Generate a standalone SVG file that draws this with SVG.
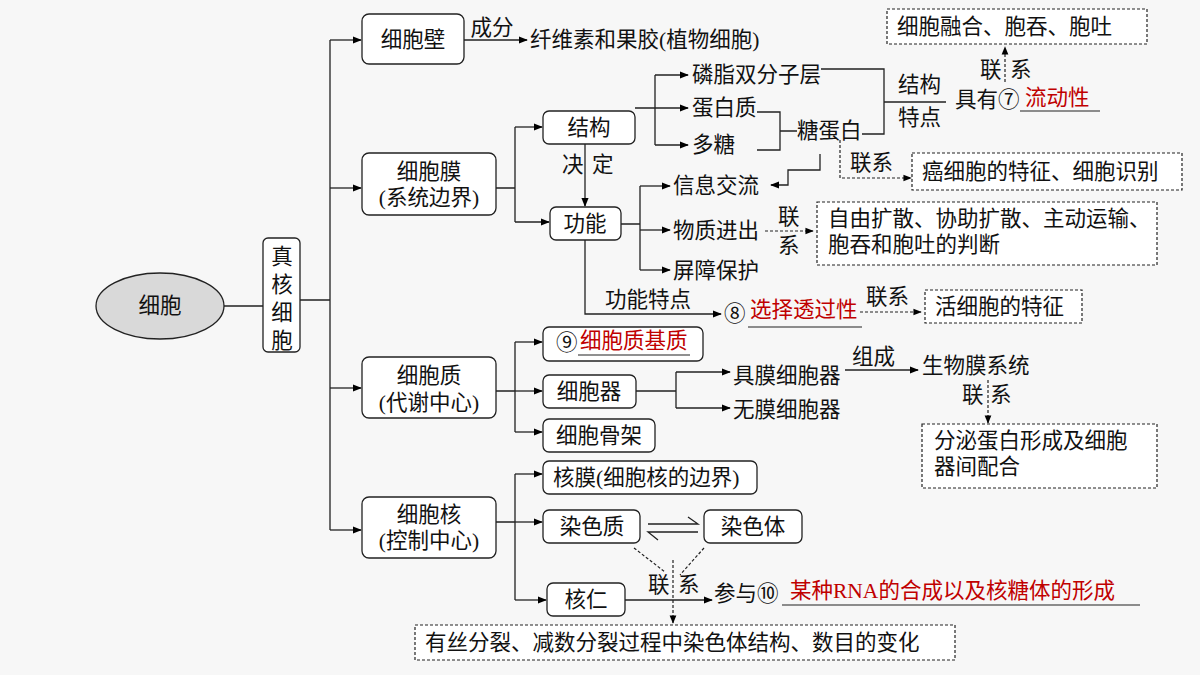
<svg xmlns="http://www.w3.org/2000/svg" width="1200" height="675" viewBox="0 0 1200 675">
<defs>
<marker id="a" viewBox="0 0 10 10" refX="9" refY="5" markerWidth="7" markerHeight="7" orient="auto"><path d="M0,1 L10,5 L0,9 Z" fill="#000"/></marker>
<style>
text{font-family:"Liberation Serif","Noto Sans CJK SC",serif;font-size:21.5px;fill:#111;dominant-baseline:central}
.c{text-anchor:middle}
.r{fill:#c00000}
.b{fill:#fff;stroke:#222;stroke-width:1.3}
.d{fill:#fff;stroke:#222;stroke-width:1.2;stroke-dasharray:3,2}
.l{fill:none;stroke:#222;stroke-width:1.3}
.ld{fill:none;stroke:#222;stroke-width:1.2;stroke-dasharray:3,2}
.u{stroke:#222;stroke-width:1.2}
</style>
</defs>
<rect width="1200" height="675" fill="#f7f7f7"/>
<g id="connectors">
<path class="l" d="M224,306H263M300,300H330M330,40V530"/>
<path class="l" marker-end="url(#a)" d="M330,40H361"/>
<path class="l" marker-end="url(#a)" d="M330,188H361"/>
<path class="l" marker-end="url(#a)" d="M330,388H361"/>
<path class="l" marker-end="url(#a)" d="M330,530H361"/>
<path class="l" marker-end="url(#a)" d="M464,40H527"/>
<path class="l" d="M496,188H515M515,127V222"/>
<path class="l" marker-end="url(#a)" d="M515,127H542"/>
<path class="l" marker-end="url(#a)" d="M515,222H549"/>
<path class="l" marker-end="url(#a)" d="M585,144V206"/>
<path class="l" d="M635,108H655M655,75V145"/>
<path class="l" marker-end="url(#a)" d="M655,75H688"/>
<path class="l" marker-end="url(#a)" d="M655,108H688"/>
<path class="l" marker-end="url(#a)" d="M655,145H688"/>
<path class="l" d="M757,112H780V150H757M780,131H797"/>
<path class="l" d="M821,69H884V134H862M884,102H946"/>
<path class="ld" marker-end="url(#a)" d="M1005,82V47"/>
<path class="ld" marker-end="url(#a)" d="M840,140V178H911"/>
<path class="l" marker-end="url(#a)" d="M820,154V170H788V185H771"/>
<path class="l" d="M621,224H640M640,186V270"/>
<path class="l" marker-end="url(#a)" d="M640,186H670"/>
<path class="l" marker-end="url(#a)" d="M640,230H670"/>
<path class="l" marker-end="url(#a)" d="M640,270H670"/>
<path class="ld" marker-end="url(#a)" d="M765,231H813"/>
<path class="l" marker-end="url(#a)" d="M585,240V314H721"/>
<path class="ld" marker-end="url(#a)" d="M860,312H921"/>
<path class="l" d="M496,391H515M515,342V432"/>
<path class="l" marker-end="url(#a)" d="M515,342H542"/>
<path class="l" marker-end="url(#a)" d="M515,391H542"/>
<path class="l" marker-end="url(#a)" d="M515,432H542"/>
<path class="l" d="M636,391H676M676,372V408"/>
<path class="l" marker-end="url(#a)" d="M676,372H730"/>
<path class="l" marker-end="url(#a)" d="M676,408H730"/>
<path class="l" marker-end="url(#a)" d="M845,370H918"/>
<path class="ld" marker-end="url(#a)" d="M988,380V423"/>
<path class="l" d="M496,522H515M515,474V600"/>
<path class="l" marker-end="url(#a)" d="M515,474H542"/>
<path class="l" marker-end="url(#a)" d="M515,522H542"/>
<path class="l" marker-end="url(#a)" d="M515,600H546"/>
<path class="l" d="M648,524H698L688,517M698,532H648L658,540"/>
<path class="ld" d="M634,548L665,572M704,548L680,575"/>
<path class="ld" marker-end="url(#a)" d="M673,560V623"/>
<path class="l" marker-end="url(#a)" d="M625,600H712"/>
</g>
<g id="n-cell"><ellipse cx="160" cy="306" rx="64" ry="33" fill="#d9d9d9" stroke="#222" stroke-width="1.3"/><text class="c" x="160" y="306">细胞</text></g>
<g id="n-eu"><rect class="b" x="263" y="238" width="37" height="114" rx="5"/><text class="c" x="282" y="257">真</text><text class="c" x="282" y="285">核</text><text class="c" x="282" y="313">细</text><text class="c" x="282" y="341">胞</text></g>
<g id="n-wall"><rect class="b" x="362" y="14" width="102" height="50" rx="7"/><text class="c" x="413" y="40">细胞壁</text><text class="c" x="492" y="28">成分</text><text x="530" y="40">纤维素和果胶(植物细胞)</text></g>
<g id="n-mem"><rect class="b" x="362" y="153" width="134" height="62" rx="7"/><text class="c" x="429" y="172">细胞膜</text><text class="c" x="429" y="198">(系统边界)</text></g>
<g id="n-struct"><rect class="b" x="543" y="111" width="92" height="33" rx="6"/><text class="c" x="589" y="128">结构</text><text x="562" y="165">决</text><text x="592" y="165">定</text></g>
<g id="n-func"><rect class="b" x="550" y="207" width="71" height="33" rx="6"/><text class="c" x="585" y="224">功能</text></g>
<g id="n-comp"><text x="692" y="75">磷脂双分子层</text><text x="692" y="108">蛋白质</text><text x="692" y="145">多糖</text><text x="797" y="131">糖蛋白</text><text x="898" y="85">结构</text><text x="898" y="118">特点</text><text x="955" y="100">具有⑦</text><text class="r" x="1025" y="98">流动性</text><line class="u" x1="1020" y1="111" x2="1100" y2="111"/><text x="980" y="70">联</text><text x="1010" y="70">系</text></g>
<g id="n-fusion"><rect class="d" x="887" y="9" width="260" height="35"/><text x="897" y="27">细胞融合、胞吞、胞吐</text></g>
<g id="n-cancer"><text x="850" y="163">联系</text><rect class="d" x="912" y="153" width="270" height="37"/><text x="922" y="172">癌细胞的特征、细胞识别</text></g>
<g id="n-funcs"><text x="673" y="186">信息交流</text><text x="673" y="231">物质进出</text><text x="673" y="271">屏障保护</text><text x="778" y="217">联</text><text x="778" y="246">系</text><rect class="d" x="817" y="202" width="340" height="63"/><text x="828" y="219">自由扩散、协助扩散、主动运输、</text><text x="828" y="245">胞吞和胞吐的判断</text></g>
<g id="n-sel"><text x="605" y="300">功能特点</text><text x="724" y="314">⑧</text><text class="r" x="750" y="310">选择透过性</text><line class="u" x1="748" y1="327" x2="862" y2="327"/><text x="866" y="297">联系</text><rect class="d" x="925" y="290" width="157" height="33"/><text x="935" y="307">活细胞的特征</text></g>
<g id="n-cyto"><rect class="b" x="362" y="357" width="134" height="61" rx="7"/><text class="c" x="429" y="376">细胞质</text><text class="c" x="429" y="403">(代谢中心)</text></g>
<g id="n-matrix"><rect class="b" x="543" y="327" width="160" height="34" rx="6"/><text x="556" y="343">⑨</text><text class="r" x="580" y="341">细胞质基质</text><line class="u" x1="578" y1="355" x2="690" y2="355"/></g>
<g id="n-org"><rect class="b" x="543" y="375" width="93" height="33" rx="6"/><text class="c" x="589" y="392">细胞器</text><text x="733" y="376">具膜细胞器</text><text x="733" y="410">无膜细胞器</text><text x="852" y="357">组成</text><text x="922" y="366">生物膜系统</text><text x="962" y="395">联</text><text x="990" y="395">系</text></g>
<g id="n-biomem"><rect class="d" x="922" y="424" width="235" height="64"/><text x="934" y="441">分泌蛋白形成及细胞</text><text x="934" y="467">器间配合</text></g>
<g id="n-skel"><rect class="b" x="543" y="419" width="112" height="33" rx="6"/><text class="c" x="599" y="436">细胞骨架</text></g>
<g id="n-nuc"><rect class="b" x="362" y="497" width="134" height="61" rx="7"/><text class="c" x="429" y="515">细胞核</text><text class="c" x="429" y="541">(控制中心)</text></g>
<g id="n-env"><rect class="b" x="543" y="461" width="214" height="33" rx="6"/><text x="553" y="478">核膜(细胞核的边界)</text></g>
<g id="n-chrom"><rect class="b" x="543" y="510" width="97" height="33" rx="6"/><text class="c" x="592" y="527">染色质</text></g>
<g id="n-chromo"><rect class="b" x="704" y="510" width="98" height="33" rx="6"/><text class="c" x="753" y="527">染色体</text></g>
<g id="n-nucleolus"><rect class="b" x="547" y="583" width="78" height="33" rx="6"/><text class="c" x="586" y="600">核仁</text><text x="648" y="585">联</text><text x="678" y="585">系</text><text x="714" y="594">参与⑩</text><text class="r" x="790" y="591">某种RNA的合成以及核糖体的形成</text><line class="u" x1="782" y1="605" x2="1140" y2="605"/></g>
<g id="n-div"><rect class="d" x="415" y="625" width="540" height="35"/><text x="425" y="643">有丝分裂、减数分裂过程中染色体结构、数目的变化</text></g>
</svg>
